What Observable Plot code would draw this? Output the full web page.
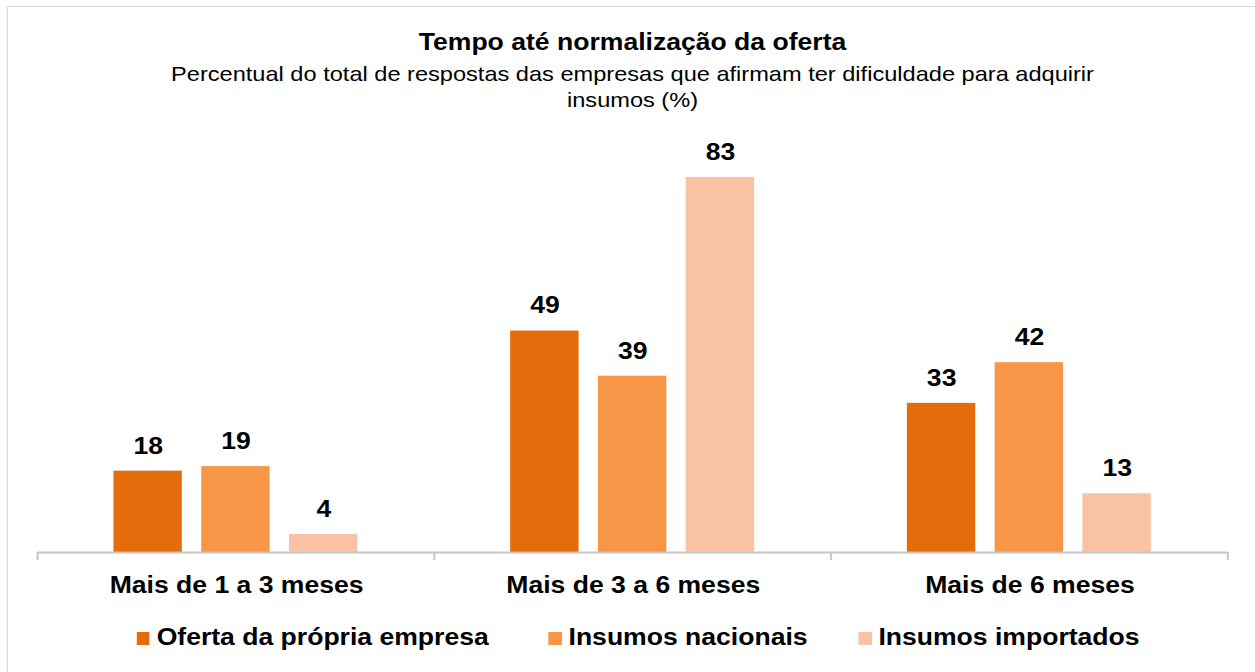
<!DOCTYPE html>
<html><head><meta charset="utf-8">
<script src="https://cdn.jsdelivr.net/npm/d3@7"></script>
<script src="https://cdn.jsdelivr.net/npm/@observablehq/plot@0.6"></script>
<style>
html,body{margin:0;padding:0;background:#fff;overflow:hidden;}
#wrap{position:relative;width:1101px;height:672px;transform:scaleX(1.14);transform-origin:0 0;font-family:"Liberation Sans",Arial,sans-serif;color:#000;}
#frame{position:absolute;left:6px;top:5.5px;width:1300px;height:900px;border-left:1.5px solid #d9d9d9;border-top:1.5px solid #d9d9d9;}
#title{position:absolute;left:32.5px;width:1044.7px;top:29px;text-align:center;font-weight:bold;font-size:23.3px;line-height:26px;}
#subtitle{position:absolute;left:32.5px;width:1044.7px;top:61px;text-align:center;font-size:20.7px;line-height:26px;}
#chart{position:absolute;left:0;top:130px;}
#legend{position:absolute;left:120px;top:624px;display:flex;font-weight:bold;font-size:23.3px;line-height:26px;white-space:nowrap;}
.item{display:flex;align-items:center;}
.sw{width:11.4px;height:13px;margin-right:6px;margin-top:2px;}
</style></head>
<body>
<div id="wrap">
  <div id="frame"></div>
  <div id="title">Tempo até normalização da oferta</div>
  <div id="subtitle">Percentual do total de respostas das empresas que afirmam ter dificuldade para adquirir<br>insumos (%)</div>
  <div id="chart"></div>
  <div id="legend"></div>
</div>
<script>
const categories = ["Mais de 1 a 3 meses", "Mais de 3 a 6 meses", "Mais de 6 meses"];
const series = ["Oferta da própria empresa", "Insumos nacionais", "Insumos importados"];
const ofertaPropria = [18, 49, 33];
const insumosNacionais = [19, 39, 42];
const insumosImportados = [4, 83, 13];
const colors = ["#E46C0A", "#F79646", "#FAC2A5"];

const seriesValues = [ofertaPropria, insumosNacionais, insumosImportados];
const data = categories.flatMap((c, i) => series.map((s, j) => ({category: c, series: s, value: seriesValues[j][i]})));

const font = "'Liberation Sans', Arial, sans-serif";
const chart = Plot.plot({
  width: 1101, height: 470,
  marginTop: 15.2, marginBottom: 48, marginLeft: 32.5, marginRight: 23.8,
  style: {background: "transparent", fontFamily: font, overflow: "visible"},
  fx: {domain: categories, padding: 0, axis: null, label: null},
  x: {domain: series, paddingInner: 0.216, paddingOuter: 0.866, axis: null, label: null},
  y: {domain: [0, 90], axis: null, label: null},
  color: {domain: series, range: colors},
  marks: [
    Plot.barY(data, {fx: "category", x: "series", y: "value", fill: "series"}),
    Plot.ruleY([0], {stroke: "#C6C6C6", strokeWidth: 2}),
    Plot.text(data, {fx: "category", x: "series", y: "value", text: d => String(d.value), dy: -25, lineAnchor: "middle", fontSize: 23.3, fontWeight: "bold", fill: "#000"}),
    Plot.text(categories, {fx: d => d, text: d => d, frameAnchor: "bottom", dy: 33, lineAnchor: "middle", fontSize: 23.3, fontWeight: "bold", fill: "#000"})
  ]
});
document.getElementById("chart").appendChild(chart);

// boundary ticks on the category axis
const fx = chart.scale("fx"), y = chart.scale("y");
const y0 = y.apply(0);
const edges = categories.map(c => fx.apply(c));
edges.push(fx.apply(categories[categories.length - 1]) + fx.bandwidth);
d3.select(chart).append("g").selectAll("line").data(edges).join("line")
  .attr("x1", d => d).attr("x2", d => d).attr("y1", y0).attr("y2", y0 + 8)
  .attr("stroke", "#C6C6C6").attr("stroke-width", 1.8);

// legend
const legendGaps = [0, 52.6, 44.7];
const legend = d3.select("#legend");
series.forEach((s, i) => {
  const it = legend.append("div").attr("class", "item").style("margin-left", legendGaps[i] + "px");
  it.append("div").attr("class", "sw").style("background", colors[i]);
  it.append("span").text(s);
});
</script>
</body></html>
